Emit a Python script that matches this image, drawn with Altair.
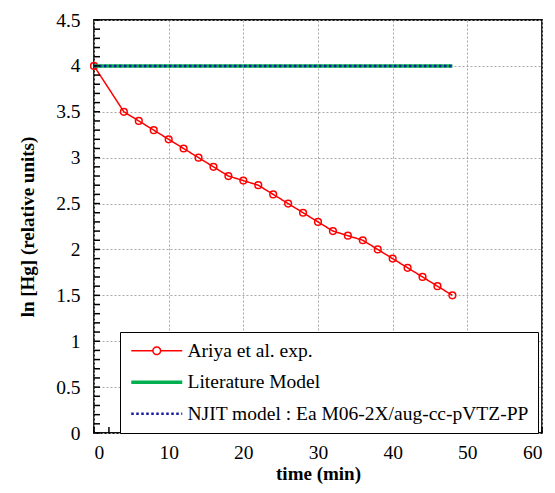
import altair as alt
import pandas as pd

# ---- data ----
ariya_time = [0, 4, 6, 8, 10, 12, 14, 16, 18, 20, 22, 24, 26, 28, 30, 32, 34, 36, 38, 40, 42, 44, 46, 48]
ariya_val = [4.0, 3.5, 3.4, 3.3, 3.2, 3.1, 3.0, 2.9, 2.8, 2.75, 2.7, 2.6, 2.5, 2.4, 2.3, 2.2, 2.15, 2.1, 2.0, 1.9, 1.8, 1.7, 1.6, 1.5]
lit_time = [0, 48]
lit_val = [4.0, 4.0]
njit_time = [0, 48]
njit_val = [4.0, 4.0]

series_names = ["Ariya et al. exp.", "Literature Model", "NJIT model : Ea M06-2X/aug-cc-pVTZ-PP"]
series_colors = ["#ff0000", "#00b050", "#1a1aa0"]
series_dash = [[1, 0], [1, 0], [2.5, 2.5]]

x_ticks = [0, 10, 20, 30, 40, 50, 60]
y_ticks = [0, 0.5, 1, 1.5, 2, 2.5, 3, 3.5, 4, 4.5]
x_minor = list(range(0, 61, 2))
y_minor = [round(i * 0.1, 1) for i in range(0, 46)]

W, H = 448, 413
FONT = "Liberation Serif"
LBL = 19.5

df_a = pd.DataFrame({"t": ariya_time, "v": ariya_val, "series": series_names[0]})
df_l = pd.DataFrame({"t": lit_time, "v": lit_val, "series": series_names[1]})
df_n = pd.DataFrame({"t": njit_time, "v": njit_val, "series": series_names[2]})

xs = alt.Scale(domain=[0, 60], nice=False)
ys = alt.Scale(domain=[0, 4.5], nice=False)
x_axis = alt.Axis(values=x_ticks, title="time (min)", labelPadding=10, titlePadding=3, format="d",
                  labelFont=FONT, labelFontSize=LBL, titleFont=FONT, titleFontSize=19, grid=True,
                  gridColor="#a8a8a8", gridDash=[2, 2], gridWidth=1)
y_axis = alt.Axis(values=y_ticks, title="ln [Hg]  (relative units)", labelPadding=14, titlePadding=18,
                  format="~g", labelFont=FONT, labelFontSize=LBL, titleFont=FONT, titleFontSize=19,
                  grid=True, gridColor="#a8a8a8", gridDash=[2, 2], gridWidth=1)

X = alt.X("t:Q", scale=xs, axis=x_axis)
Y = alt.Y("v:Q", scale=ys, axis=y_axis)

ariya_path = "M-1,0H-0.15M0.15,0H1M-0.15,0A0.15,0.15,0,1,0,0.15,0A0.15,0.15,0,1,0,-0.15,0"
legend = alt.Legend(
    title=None,
    orient="none",
    legendX=26,
    legendY=312,
    symbolType=alt.ExprRef(expr=f"datum.value === '{series_names[0]}' ? '{ariya_path}' : 'stroke'"),
    symbolStrokeWidth=alt.ExprRef(expr=f"datum.value === '{series_names[0]}' ? 1.5 : (datum.value === '{series_names[1]}' ? 3.5 : 2.5)"),
    symbolSize=2600,
    symbolOffset=18,
    labelFont=FONT,
    labelFontSize=LBL,
    labelColor="black",
    labelOffset=21,
    labelLimit=500,
    rowPadding=10.5,
    padding=9,
    strokeColor="black",
    fillColor="white",
)
color = alt.Color("series:N", scale=alt.Scale(domain=series_names, range=series_colors), legend=legend)
dash = alt.StrokeDash("series:N", scale=alt.Scale(domain=series_names, range=series_dash), legend=legend)

line_a = alt.Chart(df_a).mark_line(strokeWidth=1.5).encode(x=X, y=Y, color=color, strokeDash=dash)
pts_a = alt.Chart(df_a).mark_point(filled=False, size=45, strokeWidth=1.5, color="#ff0000", opacity=1).encode(x=X, y=Y)
line_l = alt.Chart(df_l).mark_line(strokeWidth=3.5).encode(x=X, y=Y, color=color, strokeDash=dash)
line_n = alt.Chart(df_n).mark_line(strokeWidth=2.5).encode(x=X, y=Y, color=color, strokeDash=dash)

ytick_df = pd.DataFrame({"v": y_minor})
xtick_df = pd.DataFrame({"t": x_minor})
yticks = alt.Chart(ytick_df).mark_rule(color="black", strokeWidth=1.5).encode(
    y=Y, x=alt.value(0), x2=alt.value(6))
xticks = alt.Chart(xtick_df).mark_tick(color="black", orient="vertical", size=6, thickness=1.5,
                                       yOffset=-3, opacity=1).encode(
    x=X, y=alt.value(H))

chart = alt.layer(line_a, pts_a, line_l, line_n, yticks, xticks).properties(
    width=W, height=H,
    autosize=alt.AutoSizeParams(type="none"),
    padding={"left": 86, "top": 12, "right": 5, "bottom": 52},
).configure(
    font=FONT
).configure_view(
    stroke="#111", strokeWidth=1.8
).configure_axis(
    labelColor="black",
    titleFontWeight="bold", titleColor="black",
    ticks=False, domain=False,
)

chart.save("out.html", embed_options={"renderer": "svg", "actions": False})
